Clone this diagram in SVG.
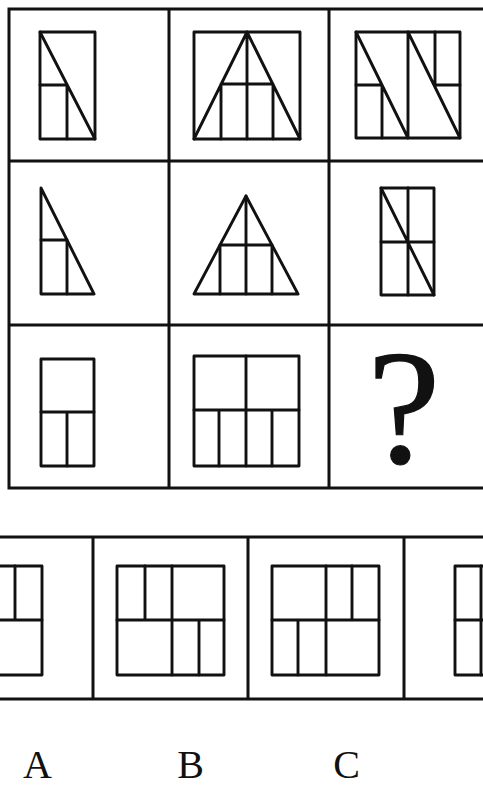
<svg xmlns="http://www.w3.org/2000/svg" width="483" height="787" viewBox="0 0 483 787">
<style>
.g{fill:none;stroke:#111;stroke-width:3;stroke-linecap:square}
.f{fill:none;stroke:#111;stroke-width:2.9;stroke-linejoin:round;stroke-linecap:round}
.lab{font-family:"Liberation Serif","DejaVu Serif",serif;font-size:40px;fill:#111;text-anchor:middle}
</style>
<rect width="483" height="787" fill="#fff"/>
<g id="grid" class="g">
<path d="M9 9H489M9 161H489M9 325H489M9 488H489M9 9V488M169 9V488M329 9V488"/>
<path d="M-10 537H493M-10 699H493M93 537V699M248 537V699M404 537V699"/>
</g>
<g id="cell-1-1" class="f">
<rect x="40" y="32" width="55" height="107"/>
<path d="M40 32L95 139M40 85H67M67 85V139"/>
</g>
<g id="cell-1-2" class="f">
<rect x="194" y="32" width="106" height="107"/>
<path d="M194 139L247 32L300 139M247 32V139M221 84H273M221 84V139M273 84V139"/>
</g>
<g id="cell-1-3" class="f">
<rect x="356" y="32" width="104" height="106"/>
<path d="M408 32V138M356 32L408 138M356 85H382M382 85V138M408 32L460 138M434 85H460M435 32V85"/>
</g>
<g id="cell-2-1" class="f">
<path d="M41 188L94 294H41Z"/>
<path d="M41 240H67M67 240V294"/>
</g>
<g id="cell-2-2" class="f">
<path d="M246 196L298 294H194Z"/>
<path d="M246 196V294M220 245H272M220 245V294M272 245V294"/>
</g>
<g id="cell-2-3" class="f">
<rect x="381" y="188" width="53" height="107"/>
<path d="M408 188V295M381 242H434M381 188L434 295"/>
</g>
<g id="cell-3-1" class="f">
<rect x="41" y="359" width="53" height="107"/>
<path d="M41 412H94M67 412V466"/>
</g>
<g id="cell-3-2" class="f">
<rect x="194" y="356" width="105" height="110"/>
<path d="M194 410H299M246 356V466M219 410V466M272 410V466"/>
</g>
<g id="cell-3-3">
<text x="404" y="463" style="font-family:'Liberation Serif','DejaVu Serif',serif;font-size:164px;fill:#111;stroke:#111;stroke-width:1.2;text-anchor:middle">?</text>
</g>
<g id="option-A" class="f">
<rect x="-40" y="566" width="82" height="109"/>
<path d="M-40 620H42M15 566V620"/>
</g>
<g id="option-B" class="f">
<rect x="117" y="566" width="107" height="109"/>
<path d="M117 620H224M172 566V675M145 566V620M199 620V675"/>
</g>
<g id="option-C" class="f">
<rect x="272" y="566" width="107" height="109"/>
<path d="M272 620H379M326 566V675M352 566V620M298 620V675"/>
</g>
<g id="option-D" class="f">
<rect x="455" y="566" width="82" height="109"/>
<path d="M455 620H537M481 566V675"/>
</g>
<g id="labels">
<text class="lab" x="37.5" y="778">A</text>
<text class="lab" x="190.5" y="778">B</text>
<text class="lab" x="346.5" y="778">C</text>
</g>
</svg>
